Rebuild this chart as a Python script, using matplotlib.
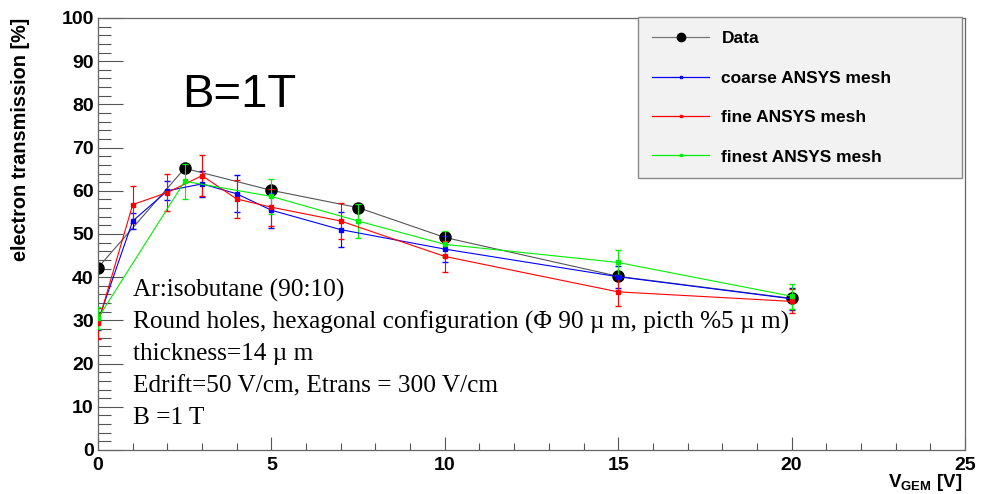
import numpy as np
import matplotlib
matplotlib.use('Agg')
import matplotlib.pyplot as plt
from matplotlib.ticker import MultipleLocator
from matplotlib.lines import Line2D

plt.rcParams['font.family'] = ['Liberation Sans', 'DejaVu Sans']
plt.rcParams['mathtext.fontset'] = 'custom'
plt.rcParams['mathtext.rm'] = 'Liberation Sans'
plt.rcParams['mathtext.bf'] = 'Liberation Sans:bold'

# measured data (black)
x_data = [0, 2.5, 5, 7.5, 10, 15, 20]
y_data = [42.2, 65.2, 60.1, 56.1, 49.2, 40.2, 35.1]

# simulations
x_sim = [0, 1, 2, 3, 4, 5, 7, 10, 15, 20]
coarse = [29.8, 53.0, 60.0, 61.6, 59.3, 55.5, 51.0, 46.5, 40.1, 35.0]
coarse_err = [2.0, 1.8, 2.2, 3.0, 4.3, 4.0, 4.0, 3.0, 2.5, 2.5]
fine = [29.3, 56.8, 59.6, 63.5, 58.1, 56.2, 53.0, 44.8, 36.6, 34.4]
fine_err = [3.5, 4.2, 4.3, 4.7, 4.3, 4.3, 4.2, 3.5, 3.3, 2.8]

x_finest = [0, 2.5, 5, 7.5, 10, 15, 20]
finest = [30.5, 62.2, 58.7, 53.0, 47.6, 43.4, 35.6]
finest_err = [2.5, 4.1, 4.0, 4.0, 3.0, 3.0, 2.9]

info_lines = [
    'Ar:isobutane (90:10)',
    'Round holes, hexagonal configuration (\u03a6 90 \u00b5 m, picth %5 \u00b5 m)',
    'thickness=14 \u00b5 m',
    'Edrift=50 V/cm, Etrans = 300 V/cm',
    'B =1 T',
]

fig = plt.figure(figsize=(9.85, 4.94), dpi=100)
ax = fig.add_axes([0.0995, 0.0891, 0.8802, 0.8745])

ax.plot(x_data, y_data, color='#555555', lw=0.8, marker='o', ms=8,
        mfc='black', mec='black', zorder=2)
handles = [Line2D([], [], color='#777777', lw=0.9, marker='o', ms=6, mfc='black', mec='black')]
labels = ['Data']

for xs, ys, es, col, lab in [(x_sim, coarse, coarse_err, '#0000ff', 'coarse ANSYS mesh'),
                             (x_sim, fine, fine_err, '#ff0000', 'fine ANSYS mesh'),
                             (x_finest, finest, finest_err, '#00ee00', 'finest ANSYS mesh')]:
    ax.errorbar(xs, ys, yerr=es, color=col, lw=0.8, elinewidth=0.8, capsize=2,
                marker='s', ms=2.5, zorder=3)
    handles.append(Line2D([], [], color=col, lw=0.9, marker='s', ms=2))
    labels.append(lab)

ax.set_xlim(0, 25)
ax.set_ylim(0, 100)
ax.xaxis.set_major_locator(MultipleLocator(5))
ax.xaxis.set_minor_locator(MultipleLocator(1))
ax.yaxis.set_major_locator(MultipleLocator(10))
ax.yaxis.set_minor_locator(MultipleLocator(2))
ax.tick_params(axis='x', which='major', direction='in', length=9.5, width=0.8, color='#555555', pad=5)
ax.tick_params(axis='x', which='minor', direction='in', length=4.7, width=0.8, color='#555555')
ax.tick_params(axis='y', which='major', direction='in', length=18, width=0.8, color='#555555', pad=3)
ax.tick_params(axis='y', which='minor', direction='in', length=9, width=0.8, color='#555555')
for lbl in ax.get_xticklabels() + ax.get_yticklabels():
    lbl.set_fontsize(14)
    lbl.set_fontweight('bold')
for sp in ax.spines.values():
    sp.set_color('#666666')
    sp.set_linewidth(0.9)

ax.set_ylabel('electron transmission [%]', fontsize=14.3, fontweight='bold', loc='top')
ax.yaxis.set_label_coords(-0.078, 1.0)
ax.set_xlabel(r'$\mathbf{V_{GEM}}$ [V]', fontsize=13.5, fontweight='bold', loc='right')
ax.xaxis.set_label_coords(0.997, -0.05)

ax.text(2.42, 79.3, 'B=1T', fontsize=34, family='Liberation Sans', va='baseline')

for i, line in enumerate(info_lines):
    ax.text(0.0404, 0.370 - 0.074 * i, line, transform=ax.transAxes, fontsize=18.2,
            family=['Liberation Serif', 'DejaVu Serif'], va='center')

leg = ax.legend(handles, labels, loc='upper left', bbox_to_anchor=(0.623, 0.63, 0.373, 0.372),
                mode='expand', borderaxespad=0, fancybox=False, facecolor='#f2f2f2',
                edgecolor='#888888', framealpha=1, prop={'size': 12.5, 'weight': 'bold'},
                handlelength=3.3, handletextpad=0.7, labelspacing=1.4, borderpad=0.8,
                numpoints=1)
leg.get_frame().set_linewidth(1.0)

fig.savefig('out.png', dpi=100)
